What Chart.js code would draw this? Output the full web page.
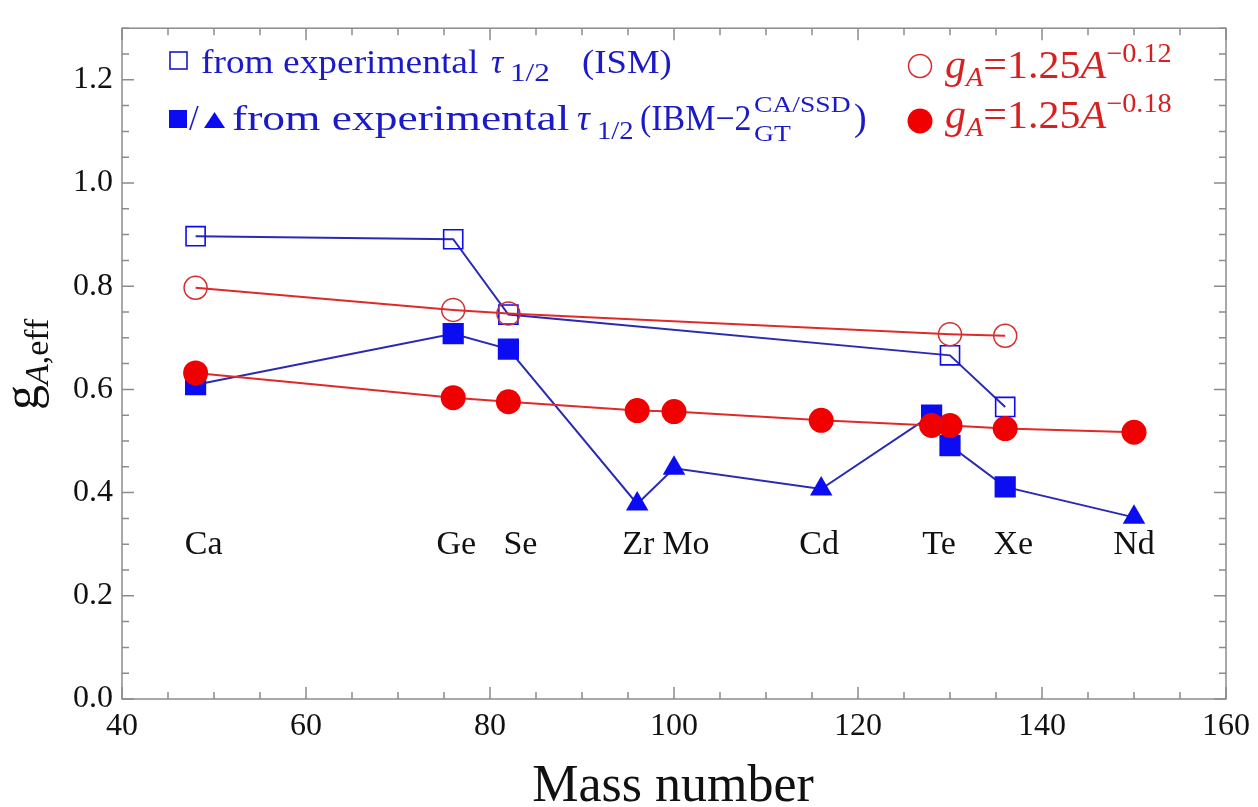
<!DOCTYPE html>
<html>
<head>
<meta charset="utf-8">
<script src="https://cdn.jsdelivr.net/npm/chart.js@4"></script>
<style>
    html, body { margin: 0; padding: 0; background: #fff; }
</style>
</head>
<body>
<canvas id="gaChart" width="1258" height="807"></canvas>
<script>
// g_A,eff
const ismMass = [48, 76, 82, 130, 136];
const ismGA = [0.897, 0.891, 0.745, 0.666, 0.566];

const ibmMass = [48, 76, 82, 96, 100, 116, 128, 130, 136, 150];
const ibmGA = [0.609, 0.708, 0.678, 0.378, 0.447, 0.407, 0.550, 0.491, 0.411, 0.352];

const fit12Mass = [48, 76, 82, 130, 136];
const fit12GA = [0.797, 0.754, 0.747, 0.707, 0.704];

const fit18Mass = [48, 76, 82, 96, 100, 116, 128, 130, 136, 150];
const fit18GA = [0.632, 0.584, 0.576, 0.559, 0.557, 0.540, 0.530, 0.530, 0.524, 0.517];

const elements = ['Ca', 'Ge', 'Se', 'Zr', 'Mo', 'Cd', 'Te', 'Xe', 'Nd'];
const elementMass = [48, 76, 82, 96, 100, 116, 130, 136, 150];

const xTicks = [40, 60, 80, 100, 120, 140, 160];
const yTicks = [0, 0.2, 0.4, 0.6, 0.8, 1.0, 1.2];

// marker shape per IBM point (squares / triangles)
const ibmShape = ['rect', 'rect', 'rect', 'triangle', 'triangle', 'triangle', 'rect', 'rect', 'rect', 'triangle'];

const BLUE = '#0c0cf2';
const BLUE_LINE = '#2a2ab4';
const BLUE_TEXT = '#1a1ac8';
const RED = '#f00000';
const RED_LINE = '#e02a2a';
const RED_TEXT = '#d82020';
const SERIF = '"Liberation Serif", "Times New Roman", serif';

function toPoints(xs, ys) {
    return xs.map((x, i) => ({ x: x, y: ys[i] }));
}

// draws text pieces one after another (sub/superscripts via dy)
function drawRich(ctx, x, y, parts, color) {
    ctx.fillStyle = color;
    ctx.textAlign = 'left';
    ctx.textBaseline = 'alphabetic';
    parts.forEach(p => {
        if (p.at !== undefined) x = p.at;
        ctx.font = (p.it ? 'italic ' : '') + p.size + 'px ' + SERIF;
        const sx = p.sx || 1;
        ctx.save();
        ctx.translate(x, y + (p.dy || 0));
        ctx.scale(sx, 1);
        ctx.fillText(p.t, 0, 0);
        ctx.restore();
        x += ctx.measureText(p.t).width * sx;
    });
    return x;
}

const framePlugin = {
    id: 'frame',
    afterDatasetsDraw(chart) {
        const ctx = chart.ctx;
        const a = chart.chartArea;
        const xs = chart.scales.x;
        const ys = chart.scales.y;
        ctx.save();

        // frame with inward ticks on all sides
        ctx.strokeStyle = '#8c8c8c';
        ctx.lineWidth = 1.5;
        ctx.strokeRect(a.left, a.top, a.right - a.left, a.bottom - a.top);
        ctx.beginPath();
        for (let v = 40; v <= 160; v += 5) {
            const px = xs.getPixelForValue(v);
            const len = v % 20 === 0 ? 12 : 7;
            ctx.moveTo(px, a.bottom); ctx.lineTo(px, a.bottom - len);
            ctx.moveTo(px, a.top); ctx.lineTo(px, a.top + len);
        }
        for (let i = 0; i <= 26; i++) {
            const py = ys.getPixelForValue(i * 0.05);
            const len = i % 4 === 0 ? 12 : 7;
            ctx.moveTo(a.left, py); ctx.lineTo(a.left + len, py);
            ctx.moveTo(a.right, py); ctx.lineTo(a.right - len, py);
        }
        ctx.stroke();

        // element names
        const labelNudge = [8, 3, 12, 1, 12, -2, -11, 8, 0];
        ctx.fillStyle = '#111';
        ctx.font = '34px ' + SERIF;
        ctx.textAlign = 'center';
        ctx.textBaseline = 'alphabetic';
        const ly = ys.getPixelForValue(0.3) + 10;
        elements.forEach((el, i) => {
            ctx.fillText(el, xs.getPixelForValue(elementMass[i]) + labelNudge[i], ly);
        });

        // axis titles
        ctx.font = '52px ' + SERIF;
        ctx.fillText('Mass number', 673, 801);

        ctx.save();
        ctx.translate(38, 410);
        ctx.rotate(-Math.PI / 2);
        drawRich(ctx, 0, 0, [
            { t: 'g', size: 50 },
            { t: 'A', it: true, size: 34, dy: 10 },
            { t: ',eff', size: 34, dy: 10 }
        ], '#111');
        ctx.restore();

        // legend, blue
        ctx.strokeStyle = BLUE_TEXT;
        ctx.lineWidth = 1.6;
        ctx.strokeRect(170, 52, 17, 17);
        drawRich(ctx, 0, 73, [
            { t: 'from experimental', at: 201, size: 34, sx: 1.1 },
            { t: 'τ', at: 491, it: true, size: 34 },
            { t: '1/2', at: 510, size: 26, dy: 8, sx: 1.2 },
            { t: '(ISM)', at: 582, size: 34, sx: 1.08 }
        ], BLUE_TEXT);

        ctx.fillStyle = BLUE;
        ctx.fillRect(169, 110, 18, 18);
        ctx.beginPath();
        ctx.moveTo(204, 128); ctx.lineTo(225, 128); ctx.lineTo(214.5, 112); ctx.closePath();
        ctx.fill();
        drawRich(ctx, 0, 130, [
            { t: '/', at: 189, size: 35 },
            { t: 'from experimental', at: 232, size: 35, sx: 1.3 },
            { t: 'τ', at: 577, it: true, size: 36 },
            { t: '1/2', at: 597, size: 26, dy: 9, sx: 1.1 },
            { t: '(IBM\u22122', at: 640, size: 35, sx: 0.97 },
            { t: 'CA/SSD', at: 754, size: 23, dy: -18, sx: 1.2 },
            { t: 'GT', at: 754, size: 23, dy: 11, sx: 1.2 },
            { t: ')', at: 854, size: 38 }
        ], BLUE_TEXT);

        // legend, red
        ctx.strokeStyle = RED_LINE;
        ctx.lineWidth = 1.5;
        ctx.beginPath();
        ctx.arc(920, 66, 11.5, 0, Math.PI * 2);
        ctx.stroke();
        ctx.fillStyle = RED;
        ctx.beginPath();
        ctx.arc(920, 121, 12.5, 0, Math.PI * 2);
        ctx.fill();
        [['\u22120.12', 78], ['\u22120.18', 128]].forEach(([pw, base]) => {
            drawRich(ctx, 945, base, [
                { t: 'g', it: true, size: 40, sx: 1.05 },
                { t: 'A', it: true, size: 27, dy: 8, sx: 1.05 },
                { t: '=1.25', size: 40, sx: 1.05 },
                { t: 'A', it: true, size: 40, sx: 1.05 },
                { t: pw, size: 27, dy: -16, sx: 1.05 }
            ], RED_TEXT);
        });

        ctx.restore();
    }
};

const tickFont = { family: SERIF, size: 32 };

new Chart(document.getElementById('gaChart').getContext('2d'), {
    type: 'scatter',
    data: {
        datasets: [{
            label: 'from experimental τ1/2 (ISM)',
            data: toPoints(ismMass, ismGA),
            showLine: true,
            borderColor: BLUE_LINE,
            borderWidth: 2,
            pointStyle: 'rect',
            pointRadius: 13.5,
            pointBorderColor: BLUE,
            pointBorderWidth: 1.6,
            pointBackgroundColor: 'rgba(0,0,0,0)',
            order: 4
        }, {
            label: 'from experimental τ1/2 (IBM-2)',
            data: toPoints(ibmMass, ibmGA),
            showLine: true,
            borderColor: BLUE_LINE,
            borderWidth: 2,
            pointStyle: ibmShape,
            pointRadius: ibmShape.map(s => s === 'rect' ? 15 : 13),
            pointBorderWidth: 0,
            pointBackgroundColor: BLUE,
            order: 3
        }, {
            label: 'gA=1.25A^-0.12',
            data: toPoints(fit12Mass, fit12GA),
            showLine: true,
            borderColor: RED_LINE,
            borderWidth: 2,
            pointStyle: 'circle',
            pointRadius: 11.5,
            pointBorderColor: '#d03030',
            pointBorderWidth: 1.5,
            pointBackgroundColor: 'rgba(0,0,0,0)',
            order: 2
        }, {
            label: 'gA=1.25A^-0.18',
            data: toPoints(fit18Mass, fit18GA),
            showLine: true,
            borderColor: RED_LINE,
            borderWidth: 2,
            pointStyle: 'circle',
            pointRadius: 12.5,
            pointBorderWidth: 0,
            pointBackgroundColor: RED,
            order: 1
        }]
    },
    options: {
        responsive: false,
        animation: false,
        layout: {
            padding: { top: 8, right: 28, left: 0, bottom: 0 }
        },
        plugins: {
            legend: { display: false },
            tooltip: { enabled: false }
        },
        scales: {
            x: {
                type: 'linear',
                min: 40,
                max: 160,
                afterBuildTicks: s => { s.ticks = xTicks.map(v => ({ value: v })); },
                afterFit: s => { s.height = 108; },
                grid: { display: false, drawTicks: false },
                border: { display: false },
                ticks: {
                    color: '#111',
                    font: tickFont,
                    padding: 8,
                    maxRotation: 0,
                    callback: v => String(v)
                }
            },
            y: {
                type: 'linear',
                min: 0,
                max: 1.3,
                afterBuildTicks: s => { s.ticks = yTicks.map(v => ({ value: v })); },
                afterFit: s => { s.width = 122; },
                grid: { display: false, drawTicks: false },
                border: { display: false },
                ticks: {
                    color: '#111',
                    font: tickFont,
                    padding: 9,
                    callback: v => v.toFixed(1)
                }
            }
        }
    },
    plugins: [framePlugin]
});
</script>
</body>
</html>
